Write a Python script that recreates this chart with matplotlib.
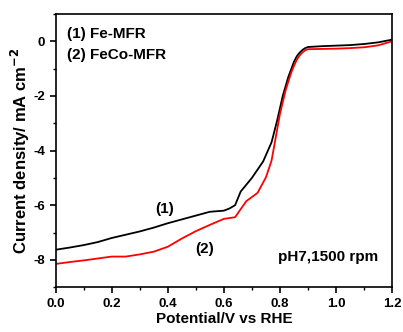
import numpy as np
import matplotlib.pyplot as plt
from matplotlib.ticker import MultipleLocator

plt.rcParams['font.family'] = ['Liberation Sans', 'DejaVu Sans']
plt.rcParams['font.weight'] = 'bold'

# LSV curves
pot_fe = [0.0, 0.05, 0.10, 0.15, 0.20, 0.25, 0.30, 0.35, 0.40, 0.45, 0.50, 0.55, 0.60, 0.62,
          0.64, 0.66, 0.70, 0.74, 0.77, 0.79, 0.81, 0.83, 0.85, 0.86, 0.87, 0.88, 0.89, 0.90,
          0.95, 1.00, 1.05, 1.10, 1.15, 1.20]
cur_fe = [-7.63, -7.55, -7.46, -7.35, -7.2, -7.08, -6.96, -6.82, -6.66, -6.52, -6.38, -6.24, -6.2, -6.12,
          -6.0, -5.5, -5.0, -4.4, -3.7, -2.9, -2.0, -1.3, -0.75, -0.55, -0.42, -0.32, -0.25, -0.21,
          -0.18, -0.16, -0.14, -0.1, -0.04, 0.06]

pot_feco = [0.0, 0.05, 0.10, 0.15, 0.20, 0.25, 0.30, 0.35, 0.40, 0.45, 0.50, 0.55, 0.60, 0.64,
            0.68, 0.72, 0.75, 0.77, 0.78, 0.80, 0.82, 0.84, 0.85, 0.86, 0.87, 0.88, 0.89, 0.90,
            0.95, 1.00, 1.05, 1.10, 1.15, 1.20]
cur_feco = [-8.15, -8.08, -8.02, -7.95, -7.88, -7.88, -7.8, -7.7, -7.52, -7.22, -6.95, -6.72, -6.5, -6.44,
            -5.85, -5.55, -4.98, -4.37, -3.8, -2.66, -1.8, -1.15, -0.9, -0.68, -0.52, -0.41, -0.33, -0.29,
            -0.28, -0.27, -0.25, -0.22, -0.15, 0.0]

fig = plt.figure(figsize=(4.03, 3.32), dpi=100)
ax = fig.add_axes([0.138, 0.135, 0.835, 0.823])

ax.plot(pot_fe, cur_fe, color='black', lw=1.3)
ax.plot(pot_feco, cur_feco, color='red', lw=1.3)

ax.set_xlim(0, 1.2)
ax.set_ylim(-9, 1)
ax.xaxis.set_major_locator(MultipleLocator(0.2))
ax.xaxis.set_minor_locator(MultipleLocator(0.1))
ax.yaxis.set_major_locator(MultipleLocator(2))
ax.yaxis.set_minor_locator(MultipleLocator(1))
ax.tick_params(which='major', direction='out', length=4, width=1.2, labelsize=9.5)
ax.tick_params(which='minor', direction='out', length=2, width=1)
ax.set_xticklabels(['%.1f' % v for v in ax.get_xticks()])
ax.set_yticklabels(['%d' % v for v in ax.get_yticks()])
for s in ax.spines.values():
    s.set_linewidth(1.2)

ax.set_xlabel('Potential/V vs RHE', fontsize=11, fontweight='bold', labelpad=2)
ax.set_ylabel('Current density/ mA cm$^{\\mathbf{-2}}$', fontsize=12, fontweight='bold', labelpad=1)

ax.text(0.04, 0.27, '(1) Fe-MFR', fontsize=11, va='center')
ax.text(0.04, -0.52, '(2) FeCo-MFR', fontsize=11, va='center')
ax.text(0.39, -6.13, '(1)', fontsize=11, ha='center', va='center')
ax.text(0.53, -7.6, '(2)', fontsize=11, ha='center', va='center')
ax.text(1.15, -7.9, 'pH7,1500 rpm', fontsize=11, ha='right', va='center')

fig.savefig('out.png', dpi=100)
